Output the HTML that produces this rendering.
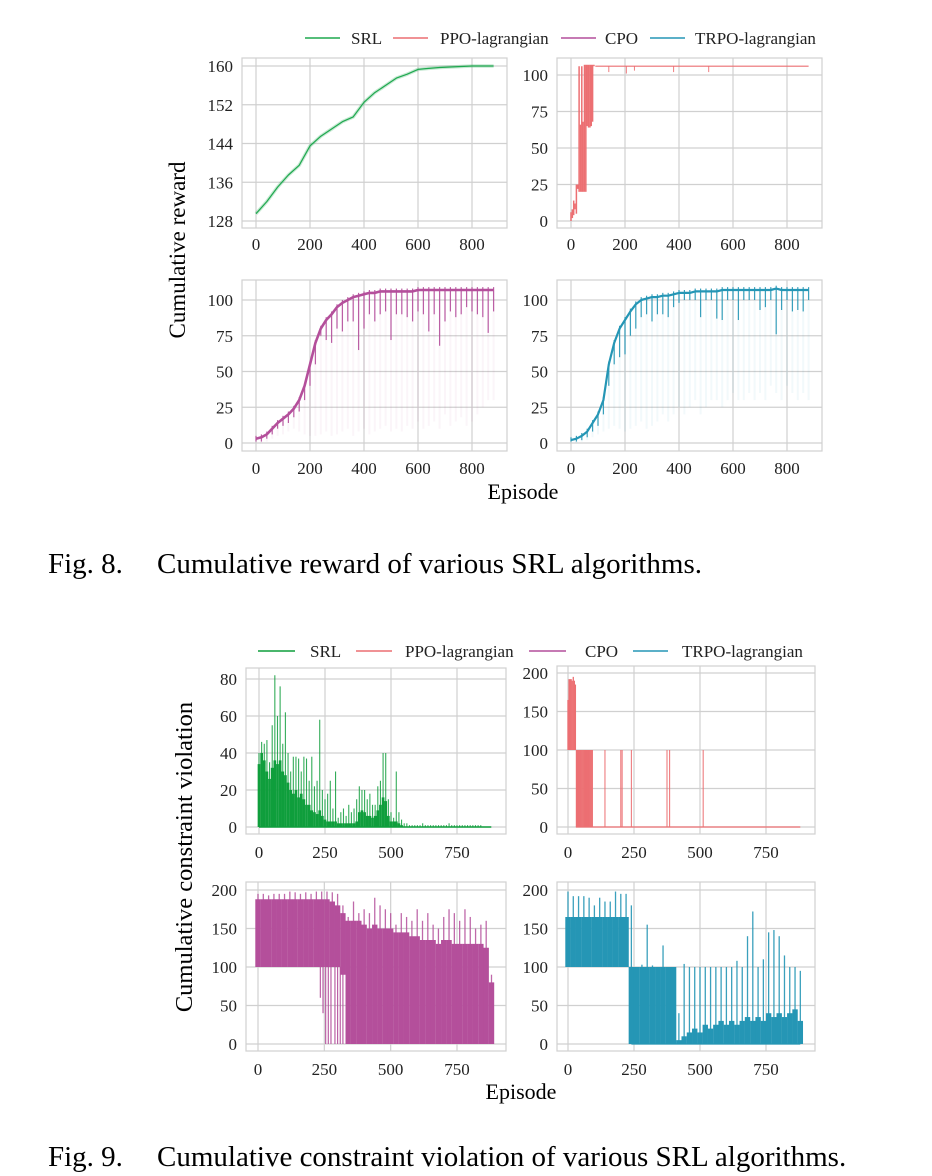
<!DOCTYPE html>
<html><head><meta charset="utf-8"><style>
html,body{margin:0;padding:0;background:#fff;}
svg{display:block;font-family:"Liberation Serif",serif;}
</style></head><body>
<svg id="fig" width="932" height="1176" viewBox="0 0 932 1176" xmlns="http://www.w3.org/2000/svg">
<rect width="932" height="1176" fill="#fff"/>
<g id="g8"></g>
<g id="g9"></g>
<text x="185" y="250" font-size="23" text-anchor="middle" transform="rotate(-90 185 250)">Cumulative reward</text>
<text x="523" y="499" font-size="22" text-anchor="middle">Episode</text>
<text x="192" y="857" font-size="24.5" text-anchor="middle" transform="rotate(-90 192 857)">Cumulative constraint violation</text>
<text x="521" y="1099" font-size="22" text-anchor="middle">Episode</text>
<text x="48" y="573" font-size="29">Fig. 8.</text>
<text x="157" y="573" font-size="29">Cumulative reward of various SRL algorithms.</text>
<text x="48" y="1166" font-size="29">Fig. 9.</text>
<text x="157" y="1166" font-size="29">Cumulative constraint violation of various SRL algorithms.</text>
</svg>
<script>
// ---------- data ----------
const seriesNames = ["SRL","PPO-lagrangian","CPO","TRPO-lagrangian"];
const ep40 = [0,40,80,120,160,200,240,280,320,360,400,440,480,520,560,600,640,680,720,760,800,840,880];
const srlReward = [129.5,132,135,137.5,139.5,143.5,145.5,147,148.5,149.5,152.5,154.5,156,157.5,158.3,159.3,159.5,159.7,159.8,159.9,160,160,160];
const ppoEp = [0,5,10,15,20,25,30,35,40,45,50,55,60,65,70,75,80,85,90];
const ppoLow = [0,2,4,8,5,22,20,20,20,20,20,20,65,64,64,65,68,106,106];
const ppoHigh = [6,8,14,12,25,25,106,66,106,68,107,107,107,107,107,107,107,107,106];
const ppoDipEp = [140,205,235,380,510];
const ppoDipVal = [102,101,103,102,102];
const ep20 = [0,20,40,60,80,100,120,140,160,180,200,220,240,260,280,300,320,340,360,380,400,420,440,460,480,500,520,540,560,580,600,620,640,660,680,700,720,740,760,780,800,820,840,860,880];
const cpoMean = [3,4,6,10,14,17,20,24,30,40,55,70,80,86,90,95,98,100,102,103,104,105,105,106,106,106,106,106,106,106,107,107,107,107,107,107,107,107,107,107,107,107,107,107,107];
const cpoDip = [1,1,3,6,10,12,14,18,22,30,40,55,75,72,70,80,78,85,85,65,80,90,85,90,92,72,90,90,88,85,92,90,78,90,68,85,92,88,90,95,92,90,88,77,92];
const cpoFaint = [0,0,1,3,5,6,8,10,8,6,5,5,6,8,5,6,8,10,5,8,10,6,8,10,12,8,10,8,12,10,15,10,12,15,10,20,12,15,18,12,15,20,25,30,30];
const trpoMean = [2,3,5,8,14,20,30,55,70,80,86,92,97,100,101,102,102,103,103,104,105,105,105,106,106,106,106,106,107,107,107,107,107,107,107,107,107,107,108,107,107,107,107,107,107];
const trpoDip = [1,1,2,4,8,12,20,40,55,60,62,75,80,88,90,85,90,90,88,95,98,100,100,100,88,100,100,87,86,100,100,86,100,100,100,93,95,100,76,93,100,92,93,92,100];
const trpoFaint = [0,0,1,2,4,6,8,10,12,10,8,10,12,15,10,12,15,20,15,20,25,20,25,30,20,25,30,30,25,30,35,30,30,35,30,35,30,40,35,30,40,35,30,35,30];
const ep10 = [];
for (let e = 0; e <= 880; e += 10) ep10.push(e);
const srlPeak = [40,46,45,47,35,55,82,60,76,45,62,40,30,38,38,37,30,38,37,25,38,22,25,58,20,15,18,25,10,30,5,8,10,6,12,8,10,15,22,20,20,15,18,12,12,22,25,40,40,15,8,5,30,8,4,2,2,1,1,1,1,1,2,1,1,1,1,1,1,1,1,1,2,1,1,1,1,1,1,1,1,1,1,1,1,0,0,0,0];
const srlBody = [34,40,36,30,26,32,36,34,36,30,28,24,20,18,20,16,18,15,12,12,9,8,7,9,6,4,3,3,3,3,2,2,2,2,2,2,2,3,8,9,8,6,6,5,6,9,12,16,14,6,3,3,3,2,1,0,0,0,0,0,0,0,0,0,0,0,0,0,0,0,0,0,0,0,0,0,0,0,0,0,0,0,0,0,0,0,0,0,0];
const ppoVEp = [0,4,8,12,16,20,24,28,32,36,40,44,48,52,56,60,64,68,72,76,80,84,88,92,140,200,205,240,375,385,512];
const ppoVLow = [100,100,100,100,100,100,100,100,0,0,0,0,0,0,0,0,0,0,0,0,0,0,0,0,0,0,0,0,0,0,0];
const ppoVHigh = [165,192,192,192,190,195,190,185,100,100,100,100,100,100,100,100,100,100,100,100,100,100,100,100,100,100,100,100,100,100,100];
const cpoVLow = [100,100,100,100,100,100,100,100,100,100,100,100,100,100,100,100,90,0,0,0,0,0,0,0,0,0,0,0,0,0,0,0,0,0,0,0,0,0,0,0,0,0,0,0,0];
const cpoVHigh = [188,188,188,188,188,188,188,188,188,188,188,188,188,188,185,180,170,160,160,160,155,150,155,150,150,150,145,145,145,140,140,135,135,135,130,135,135,130,130,130,130,130,130,125,80];
const cpoVPeak = [195,195,193,195,195,195,198,197,195,197,195,198,198,198,197,195,180,165,185,170,175,170,190,180,175,170,155,170,165,160,175,160,170,155,150,165,175,170,160,175,165,150,155,160,90];
const cpoDipEp = [235,245,255,265,275,290,300,310,320];
const cpoDipVal = [60,40,0,0,0,0,0,0,0];
const trpoVLow = [100,100,100,100,100,100,100,100,100,100,100,100,0,0,0,0,0,0,0,0,0,0,0,0,0,0,0,0,0,0,0,0,0,0,0,0,0,0,0,0,0,0,0,0,0];
const trpoVHigh = [165,165,165,165,165,165,165,165,165,165,165,165,100,100,100,100,100,100,100,100,100,5,10,15,20,15,25,20,25,30,25,30,25,30,35,30,35,30,40,35,40,35,40,45,30];
const trpoVPeak = [198,192,192,192,190,180,190,185,185,198,195,195,180,100,103,155,102,100,128,100,100,40,104,100,100,100,100,100,100,100,100,100,108,100,140,172,100,110,145,148,140,115,100,100,95];
const colors = {SRL:"#1fa84f", SRL9:"#0f9e3c", PPO:"#ec6f72", CPO:"#b44f9b", TRPO:"#2596b5"};

// ---------- helpers ----------
const NS = "http://www.w3.org/2000/svg";
function mk(parent, tag, attrs){
  const el = document.createElementNS(NS, tag);
  for (const k in attrs) el.setAttribute(k, attrs[k]);
  parent.appendChild(el);
  return el;
}
function makePanel(parent, name, frame, xr, yr, xTicks, yTicks, xLabY){
  const g = mk(parent, "g", {});
  
  
  const [fx0, fy0, fx1, fy1] = frame;
  const xs = e => xr[0] + (e - xr[2]) * (xr[1] - xr[0]) / (xr[3] - xr[2]);
  const ys = v => yr[0] + (v - yr[2]) * (yr[1] - yr[0]) / (yr[3] - yr[2]);
  xTicks.forEach(t => {
    const gl = mk(g, "line", {x1: xs(t), x2: xs(t), y1: fy0, y2: fy1, stroke: "#d0d0d0", "stroke-width": 1.2});
    
    
    const tl = mk(g, "text", {x: xs(t), y: xLabY, "font-size": 17, "text-anchor": "middle", fill: "#222"});
    tl.textContent = t;
    
    
  });
  yTicks.forEach(t => {
    const gl = mk(g, "line", {x1: fx0, x2: fx1, y1: ys(t), y2: ys(t), stroke: "#d0d0d0", "stroke-width": 1.2});
    
    
    const tl = mk(g, "text", {x: fx0 - 9, y: ys(t) + 6, "font-size": 17, "text-anchor": "end", fill: "#222"});
    tl.textContent = t;
    
    
  });
  const fr = mk(g, "rect", {x: fx0, y: fy0, width: fx1 - fx0, height: fy1 - fy0, fill: "none", stroke: "#d0d0d0", "stroke-width": 1.2});
  
  
  const marks = mk(g, "g", {});
  
  
  return {g: marks, xs, ys};
}
function vbar(p, e, lo, hi, w, color, op, name){
  const l = mk(p.g, "line", {x1: p.xs(e), x2: p.xs(e), y1: p.ys(lo), y2: p.ys(hi), stroke: color, "stroke-width": w, "stroke-opacity": op});
  
  
}
function polyline(p, xsArr, vals, color, w, name, op){
  const pts = xsArr.map((e, i) => p.xs(e).toFixed(1) + "," + p.ys(vals[i]).toFixed(1)).join(" ");
  const l = mk(p.g, "polyline", {points: pts, fill: "none", stroke: color, "stroke-width": w, "stroke-linejoin": "round", "stroke-opacity": op == null ? 1 : op});
  
  
}
function legend(parent, name, y, items){
  const g = mk(parent, "g", {});
  
  
  items.forEach(it => {
    const e = mk(g, "g", {});
    
    
    mk(e, "line", {x1: it[0], x2: it[1], y1: y, y2: y, stroke: it[3], "stroke-width": 1.6});
    const t = mk(e, "text", {x: it[2], y: y + 6, "font-size": 17, fill: "#222"});
    t.textContent = it[4];
  });
}

// ---------- Fig 8 ----------
const g8 = document.getElementById("g8");
legend(g8, "fig8-legend", 38, [[305,340,351,colors.SRL,seriesNames[0]],[393,428,440,colors.PPO,seriesNames[1]],[561,596,605,colors.CPO,seriesNames[2]],[650,685,695,colors.TRPO,seriesNames[3]]]);
const xT8 = [0,200,400,600,800];
const pA = makePanel(g8, "fig8-srl-panel", [242,58,507,228], [256,472,0,800], [221,66,128,160], xT8, [128,136,144,152,160], 250);
polyline(pA, ep40, srlReward, colors.SRL, 3.5, "srl-reward-band", 0.25);
polyline(pA, ep40, srlReward, colors.SRL, 1.2, "srl-reward-line");
const pB = makePanel(g8, "fig8-ppo-panel", [557,58,822,228], [571,787,0,800], [221,75,0,100], xT8, [0,25,50,75,100], 250);
ppoEp.forEach((e, i) => vbar(pB, e, ppoLow[i], ppoHigh[i], 1.5, colors.PPO, 1, "ppo-reward-bar"));
polyline(pB, [90, 880], [106, 106], colors.PPO, 1.2, "ppo-reward-line");
ppoDipEp.forEach((e, i) => vbar(pB, e, ppoDipVal[i], 106, 1, colors.PPO, 0.9, "ppo-reward-dip"));
const pC = makePanel(g8, "fig8-cpo-panel", [242,280,507,451], [256,472,0,800], [443,300,0,100], xT8, [0,25,50,75,100], 474);
ep20.forEach((e, i) => vbar(pC, e, cpoFaint[i], cpoMean[i], 2, colors.CPO, 0.06, "cpo-reward-faint"));
ep20.forEach((e, i) => vbar(pC, e, cpoDip[i], Math.max(cpoMean[i], cpoDip[i]) + 2, 1.2, colors.CPO, 0.9, "cpo-reward-dip"));
polyline(pC, ep20, cpoMean, colors.CPO, 2.6, "cpo-reward-line");
const pD = makePanel(g8, "fig8-trpo-panel", [557,280,822,451], [571,787,0,800], [443,300,0,100], xT8, [0,25,50,75,100], 474);
ep20.forEach((e, i) => vbar(pD, e, trpoFaint[i], trpoMean[i], 2, colors.TRPO, 0.06, "trpo-reward-faint"));
ep20.forEach((e, i) => vbar(pD, e, trpoDip[i], Math.max(trpoMean[i], trpoDip[i]) + 2, 1.2, colors.TRPO, 0.9, "trpo-reward-dip"));
polyline(pD, ep20, trpoMean, colors.TRPO, 2.2, "trpo-reward-line");

// ---------- Fig 9 ----------
const g9 = document.getElementById("g9");
legend(g9, "fig9-legend", 651, [[258,295,310,colors.SRL9,seriesNames[0]],[356,392,405,colors.PPO,seriesNames[1]],[529,566,585,colors.CPO,seriesNames[2]],[633,668,682,colors.TRPO,seriesNames[3]]]);
const xT9 = [0,250,500,750];
const pE = makePanel(g9, "fig9-srl-panel", [246,668,506,834], [259,457,0,750], [827,679,0,80], xT9, [0,20,40,60,80], 858);
ep10.forEach((e, i) => vbar(pE, e, 0, srlPeak[i], 1.1, colors.SRL9, 0.85, "srl-violation-peak"));
ep10.forEach((e, i) => vbar(pE, e, 0, srlBody[i], 2.7, colors.SRL9, 1, "srl-violation-body"));
polyline(pE, [0, 880], [0, 0], colors.SRL9, 1.4, "srl-violation-baseline");
const pF = makePanel(g9, "fig9-ppo-panel", [557,666,815,834], [568,766,0,750], [827,673,0,200], xT9, [0,50,100,150,200], 858);
ppoVEp.forEach((e, i) => vbar(pF, e, ppoVLow[i], ppoVHigh[i], e < 100 ? 1.3 : 1, colors.PPO, 1, "ppo-violation-bar"));
polyline(pF, [30, 880], [0, 0], colors.PPO, 1.3, "ppo-violation-baseline");
const pG = makePanel(g9, "fig9-cpo-panel", [246,882,506,1051], [258,457,0,750], [1044,890,0,200], xT9, [0,50,100,150,200], 1075);
ep20.forEach((e, i) => vbar(pG, e, cpoVLow[i], cpoVPeak[i], 1.3, colors.CPO, 0.85, "cpo-violation-peak"));
ep20.forEach((e, i) => vbar(pG, e, cpoVLow[i], cpoVHigh[i], 5.4, colors.CPO, 1, "cpo-violation-body"));
cpoDipEp.forEach((e, i) => vbar(pG, e, cpoDipVal[i], 100, 1.2, colors.CPO, 0.9, "cpo-violation-dip"));
const pH = makePanel(g9, "fig9-trpo-panel", [557,882,815,1051], [568,766,0,750], [1044,890,0,200], xT9, [0,50,100,150,200], 1075);
ep20.forEach((e, i) => vbar(pH, e, trpoVLow[i], trpoVPeak[i], 1.3, colors.TRPO, 0.9, "trpo-violation-peak"));
ep20.forEach((e, i) => vbar(pH, e, trpoVLow[i], trpoVHigh[i], 5.4, colors.TRPO, 1, "trpo-violation-body"));
polyline(pH, [240, 880], [0, 0], colors.TRPO, 1.3, "trpo-violation-baseline");
</script>
</body></html>
